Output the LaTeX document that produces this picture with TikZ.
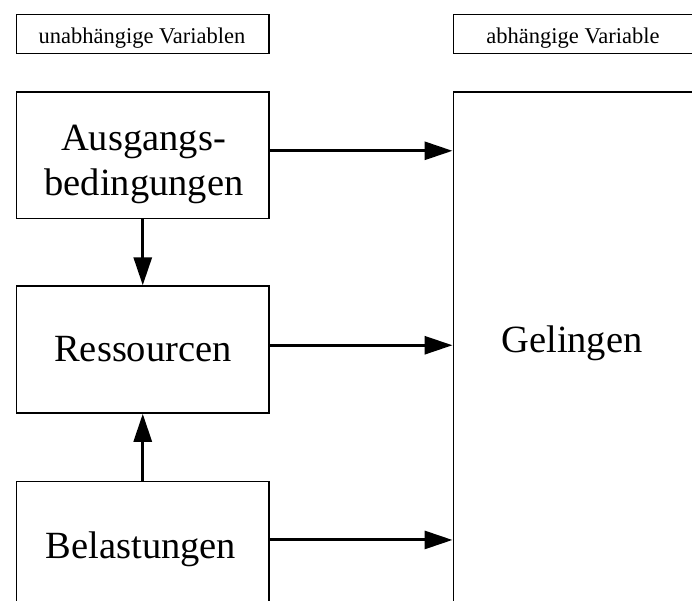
\documentclass[tikz,border=0pt]{standalone}
\usepackage{fontspec}
\setmainfont{Liberation Serif}
\usetikzlibrary{arrows.meta}

\tikzset{
  frame/.style={draw, line width=1.5pt, inner sep=0pt, anchor=north west},
  small/.style={inner sep=0pt, anchor=base, font=\fontsize{22.5}{27}\selectfont},
  big/.style={inner sep=0pt, anchor=base, font=\fontsize{38.5}{46}\selectfont},
  arr/.style={line width=3pt, -{Triangle[length=28pt,width=18pt]}}
}

\begin{document}
\begin{tikzpicture}[x=1pt,y=1pt]
  \useasboundingbox (0,0) rectangle (692,-600);
  \clip (0,0) rectangle (692,-600);

  % header boxes
  \node[frame, minimum width=252.6pt, minimum height=39pt] (ind) at (15.7,-13.5) {};
  \node[frame, minimum width=260pt, minimum height=39pt] (dep) at (452.5,-13.5) {};
  \node[small] (indtxt) at (142,-43.3) {unabhängige Variablen};
  \node[small] (deptxt) at (573,-43.3) {abhängige Variable};

  % independent variables
  \node[frame, minimum width=252.6pt, minimum height=126.7pt] (aus) at (15.7,-91) {};
  \node[frame, minimum width=252.6pt, minimum height=127pt] (res) at (15.7,-285.3) {};
  \node[frame, minimum width=252.6pt, minimum height=127pt] (bel) at (15.7,-480.7) {};

  % dependent variable
  \node[frame, minimum width=300pt, minimum height=600pt] (gel) at (452.5,-91) {};

  \node[big] (aus1) at (143.5,-150) {Ausgangs-};
  \node[big] (aus2) at (144,-195) {bedingungen};
  \node[big] (restxt) at (143,-361.7) {Ressourcen};
  \node[big] (beltxt) at (141,-558) {Belastungen};
  \node[big] (geltxt) at (572,-352.7) {Gelingen};

  % vertical influences
  \draw[arr] (aus.south) -- (res.north);
  \draw[arr] (bel.north) -- (res.south);

  % influences on the outcome
  \draw[arr] ([yshift=4.3pt]aus.east) coordinate (a1) -- (a1 -| gel.west);
  \draw[arr] ([yshift=4.3pt]res.east) coordinate (a2) -- (a2 -| gel.west);
  \draw[arr] ([yshift=5pt]bel.east) coordinate (a3) -- (a3 -| gel.west);
\end{tikzpicture}
\end{document}
